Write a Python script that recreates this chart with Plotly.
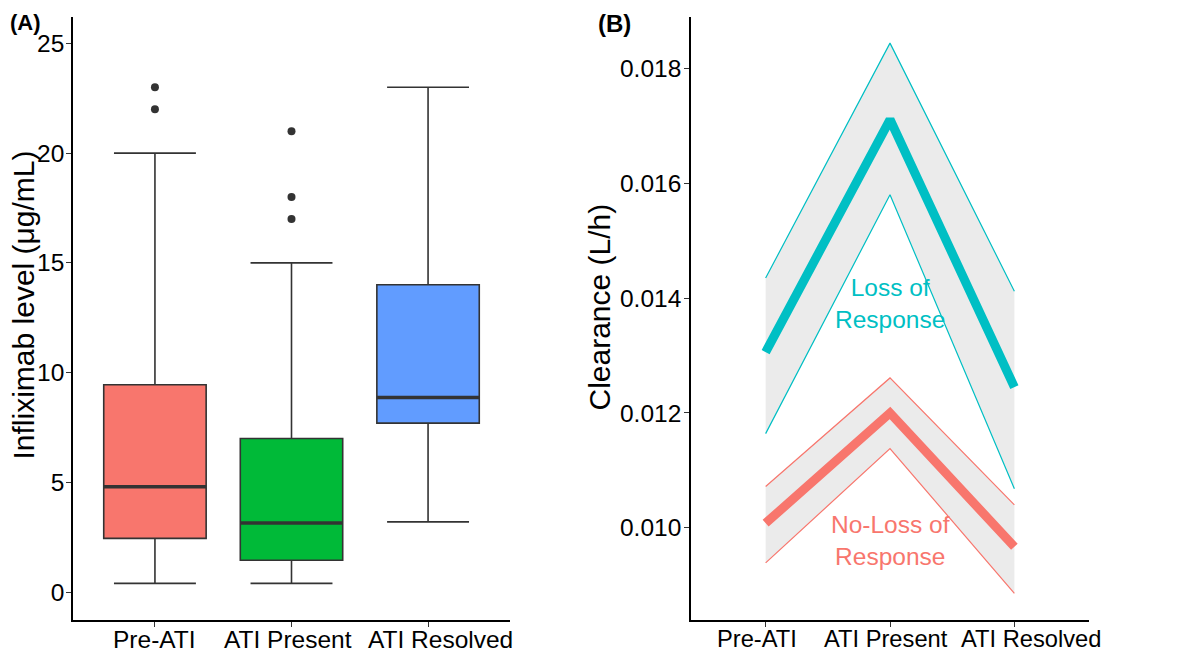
import plotly.graph_objects as go

# panel A: infliximab level by ATI status (box stats)
groups = ["Pre-ATI", "ATI Present", "ATI Resolved"]
box_colors = ["#F8766D", "#00BA38", "#619CFF"]
lower_whisker = [0.4, 0.4, 3.2]
q1 = [2.45, 1.45, 7.7]
median = [4.8, 3.15, 8.87]
q3 = [9.45, 7.0, 14.0]
upper_whisker = [20, 15, 23]
outlier_group = [1, 1, 2, 2, 2]
outlier_value = [23, 22, 21, 18, 17]

# panel B: clearance (L/h) with confidence band
lor_mean = [0.01306, 0.01711, 0.01245]
lor_upper = [0.01435, 0.01844, 0.01412]
lor_lower = [0.01164, 0.01580, 0.01068]
nlor_mean = [0.01008, 0.01200, 0.00967]
nlor_upper = [0.01072, 0.01261, 0.01040]
nlor_lower = [0.00939, 0.01138, 0.00886]

pos = [1, 2, 3]
box_w = 0.75
FONT = "Liberation Sans, Arial, sans-serif"
DARK = "#333333"
W, H = 1200, 659
OFF = 8  # page body margin pushes the plot 8px right/down
TOP, BOT = 17 - OFF, 620 - OFF   # plot area top/bottom in figure px

# category labels are nudged sideways a bit in the original render
left_nudge = [0, -3.5, 12.5]
right_nudge = [-9, -4, 17]

fig = go.Figure()

for i, g in enumerate(groups):
    fig.add_trace(go.Box(
        x=[pos[i]], q1=[q1[i]], median=[median[i]], q3=[q3[i]],
        lowerfence=[lower_whisker[i]], upperfence=[upper_whisker[i]],
        width=box_w, whiskerwidth=0.8, fillcolor=box_colors[i],
        line=dict(color=DARK, width=1.6), boxpoints=False,
        xaxis="x", yaxis="y", showlegend=False, name=g))
    # thicker median bar like ggplot
    fig.add_trace(go.Scatter(
        x=[pos[i] - box_w / 2, pos[i] + box_w / 2], y=[median[i], median[i]],
        mode="lines", line=dict(color=DARK, width=3.5),
        xaxis="x", yaxis="y", showlegend=False, hoverinfo="skip"))

fig.add_trace(go.Scatter(
    x=outlier_group, y=outlier_value, mode="markers",
    marker=dict(color=DARK, size=8), xaxis="x", yaxis="y", showlegend=False))


def band(lower, upper, mean, color):
    fig.add_trace(go.Scatter(x=pos, y=lower, mode="lines",
                             line=dict(color=color, width=1.2),
                             xaxis="x2", yaxis="y2", showlegend=False))
    fig.add_trace(go.Scatter(x=pos, y=upper, mode="lines", fill="tonexty",
                             fillcolor="#EBEBEB",
                             line=dict(color=color, width=1.2),
                             xaxis="x2", yaxis="y2", showlegend=False))
    fig.add_trace(go.Scatter(x=pos, y=mean, mode="lines",
                             line=dict(color=color, width=9),
                             xaxis="x2", yaxis="y2", showlegend=False))


band(lor_lower, lor_upper, lor_mean, "#00BFC4")
band(nlor_lower, nlor_upper, nlor_mean, "#F8766D")

axis_common = dict(
    showline=True, linecolor="black", linewidth=1.6, ticks="outside",
    ticklen=5, tickcolor=DARK, tickwidth=1.2, showgrid=False, zeroline=False,
    automargin=False)
tick24 = dict(family=FONT, size=24.5, color="black")

fig.update_layout(
    width=W, height=H, plot_bgcolor="white", paper_bgcolor="white",
    margin=dict(l=0, r=0, t=TOP, b=H - BOT),
    font=dict(family=FONT, color="black"),
    xaxis=dict(domain=[(73 - OFF) / W, (510 - OFF) / W], range=[0.4, 3.6],
               tickvals=pos, showticklabels=False, **axis_common),
    yaxis=dict(domain=[0, 1], range=[-1.27, 26.2], tickvals=[0, 5, 10, 15, 20, 25],
               ticklabelstandoff=-3, tickfont=tick24, **axis_common),
    xaxis2=dict(domain=[(691 - OFF) / W, (1089 - OFF) / W], anchor="y2", range=[0.4, 3.6],
                tickvals=pos, showticklabels=False, **axis_common),
    yaxis2=dict(domain=[0, 1], range=[0.008395, 0.018895], anchor="x2",
                tickvals=[0.010, 0.012, 0.014, 0.016, 0.018], tickformat=".3f",
                ticklabelstandoff=-2, tickfont=tick24, **axis_common),
)

# category labels under each panel
for xr, nudge, size in (("x", left_nudge, 24.5), ("x2", right_nudge, 23.7)):
    for i, g in enumerate(groups):
        fig.add_annotation(text=g, x=pos[i], y=0, xref=xr, yref="paper",
                           xanchor="center", yanchor="top", xshift=nudge[i], yshift=-4,
                           showarrow=False, font=dict(family=FONT, size=size, color="black"))


def paper_y(fig_px):
    return (BOT - fig_px) / (BOT - TOP)


# axis titles
fig.add_annotation(text="Infliximab level (μg/mL)", textangle=-90,
                   x=(23 - OFF) / W, y=paper_y(305.5 - OFF), xref="paper", yref="paper",
                   xanchor="center", yanchor="middle",
                   showarrow=False, font=dict(family=FONT, size=30, color="black"))
fig.add_annotation(text="Clearance (L/h)", textangle=-90,
                   x=(599 - OFF) / W, y=paper_y(307.5 - OFF), xref="paper", yref="paper",
                   xanchor="center", yanchor="middle",
                   showarrow=False, font=dict(family=FONT, size=30, color="black"))

fig.add_annotation(text="Loss of<br>Response", x=2, y=0.01391, xref="x2", yref="y2",
                   showarrow=False, font=dict(family=FONT, size=24.5, color="#00BFC4"))
fig.add_annotation(text="No-Loss of<br>Response", x=2, y=0.00978, xref="x2", yref="y2",
                   showarrow=False, font=dict(family=FONT, size=24.5, color="#F8766D"))
fig.add_annotation(text="<b>(A)</b>", x=0, y=1, xref="paper", yref="paper",
                   xanchor="left", yanchor="top", yshift=TOP, showarrow=False,
                   font=dict(family=FONT, size=22, color="black"))
fig.add_annotation(text="<b>(B)</b>", x=(596 - OFF) / W, y=1, xref="paper", yref="paper",
                   xanchor="left", yanchor="top", yshift=TOP, showarrow=False,
                   font=dict(family=FONT, size=24, color="black"))

fig.write_html("out.html")
